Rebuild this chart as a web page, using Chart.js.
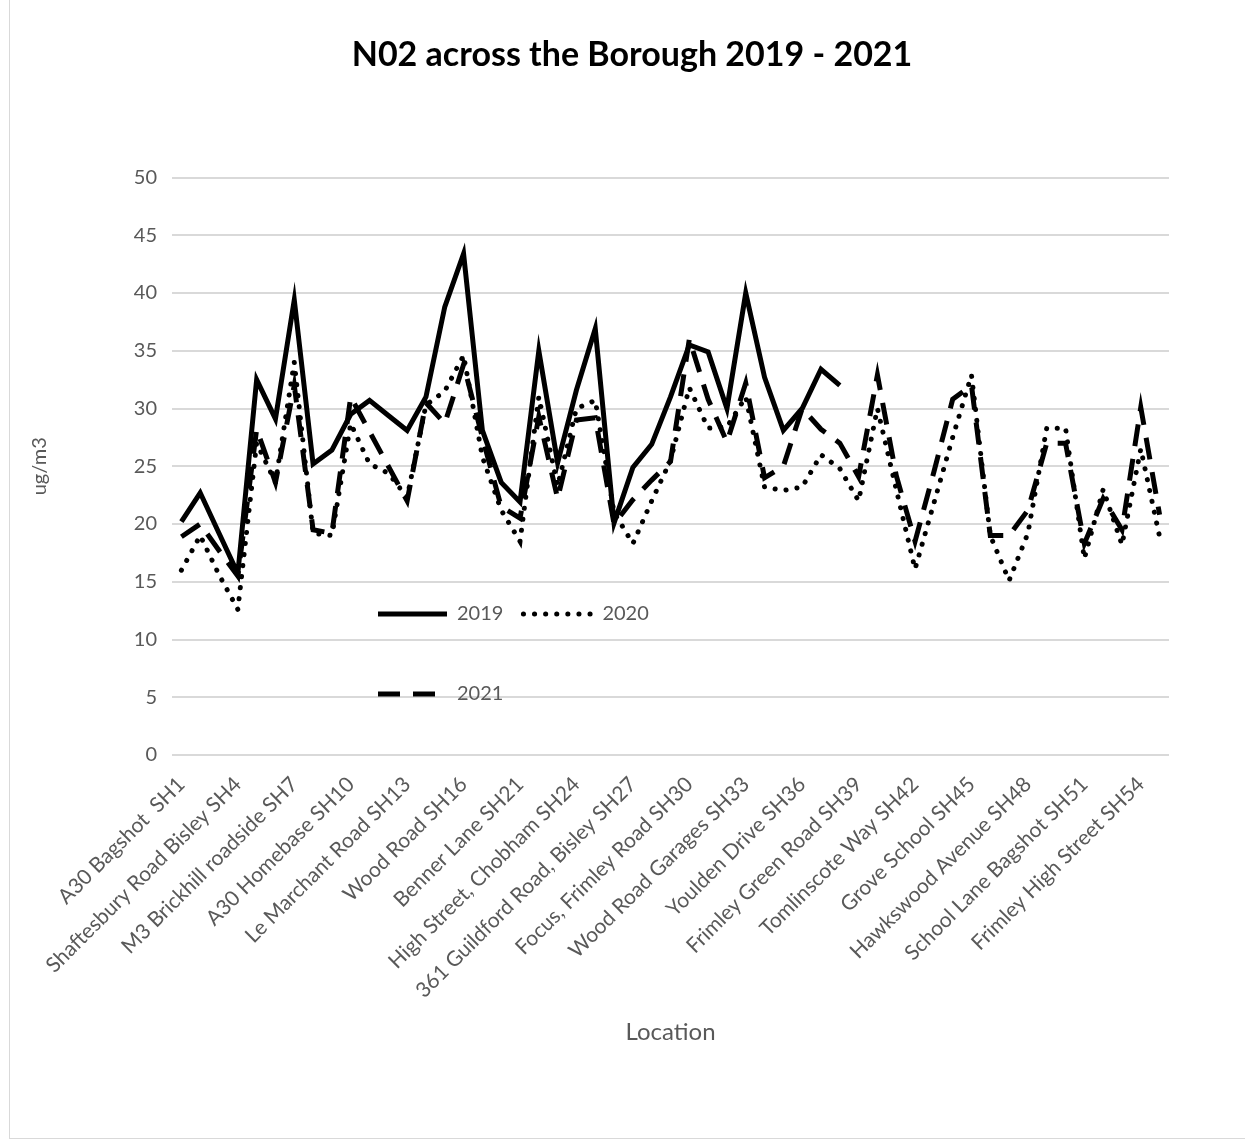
<!DOCTYPE html>
<html>
<head>
<meta charset="utf-8">
<title>N02 across the Borough 2019 - 2021</title>
<script src="https://cdn.jsdelivr.net/npm/chart.js@4.4.1/dist/chart.umd.min.js"></script>
<style>
  html, body { margin: 0; padding: 0; background: #fff; }
  #wrap { width: 1245px; height: 1140px; }
</style>
</head>
<body>
<div id="wrap"><canvas id="no2-chart" width="1245" height="1140"></canvas></div>
<script>
// monitoring sites, only every third name is printed on the axis
const locations = [
    'A30 Bagshot  SH1', 'SH2', 'SH3',
    'Shaftesbury Road Bisley SH4', 'SH5', 'SH6',
    'M3 Brickhill roadside SH7', 'SH8', 'SH9',
    'A30 Homebase SH10', 'SH11', 'SH12',
    'Le Marchant Road SH13', 'SH14', 'SH15',
    'Wood Road SH16', 'SH19', 'SH20',
    'Benner Lane SH21', 'SH22', 'SH23',
    'High Street, Chobham SH24', 'SH25', 'SH26',
    '361 Guildford Road, Bisley SH27', 'SH28', 'SH29',
    'Focus, Frimley Road SH30', 'SH31', 'SH32',
    'Wood Road Garages SH33', 'SH34', 'SH35',
    'Youlden Drive SH36', 'SH37', 'SH38',
    'Frimley Green Road SH39', 'SH40', 'SH41',
    'Tomlinscote Way SH42', 'SH43', 'SH44',
    'Grove School SH45', 'SH46', 'SH47',
    'Hawkswood Avenue SH48', 'SH49', 'SH50',
    'School Lane Bagshot SH51', 'SH52', 'SH53',
    'Frimley High Street SH54', 'SH55'
];

// annual mean NO2, ug/m3
const no2_2019 = [20.2, 22.7, 19.2, 15.7, 32.5, 29.1, 39.4, 25.2, 26.4, 29.5,
    30.7, 29.4, 28.1, 31.0, 38.8, 43.4, 28.1, 23.6, 21.9, 35.0,
    25.3, 31.6, 36.9, 20.1, 24.9, 26.9, 31.0, 35.5, 34.9, 30.0,
    40.0, 32.7, 28.1, 30.0, 33.4, 32.0, null, null, null, null,
    null, null, null, null, null, null, null, null, null, null,
    null, null, null];
const no2_2020 = [16.0, 19.0, 15.6, 12.6, 27.0, 23.6, 34.0, 19.2, 19.0, 28.7,
    25.2, 24.4, 22.3, 30.3, 31.5, 34.6, 25.8, 21.2, 18.5, 31.0,
    23.3, 30.0, 30.7, 21.0, 18.3, 22.0, 25.5, 31.8, 28.3, 28.4,
    31.0, 23.2, 22.9, 23.2, 26.0, 24.8, 22.0, 30.0, 23.0, 16.1,
    21.8, 27.5, 32.9, 19.0, 15.1, 19.2, 28.3, 28.3, 17.0, 23.0,
    18.2, 26.5, 18.9];
const no2_2021 = [18.9, 20.0, 17.7, 15.5, 28.2, 23.6, 32.0, 19.5, 19.2, 31.0,
    28.0, 25.0, 22.0, 30.5, 28.7, 33.8, 27.5, 21.5, 20.5, 29.3,
    22.2, 29.0, 29.2, 20.0, 22.1, 23.8, 25.4, 36.0, 30.8, 27.1,
    32.2, 24.0, 25.0, 30.0, 28.2, 27.0, 24.1, 32.9, 24.2, 18.5,
    24.5, 30.8, 32.0, 19.0, 19.0, 21.2, 27.0, 27.0, 18.3, 22.2,
    19.5, 30.1, 20.8];

const years = ['2019', '2020', '2021'];
const yMin = 0, yMax = 50, yStep = 5;

Chart.defaults.font.family = "Lato, 'Open Sans', sans-serif";
Chart.defaults.color = '#595959';

// white card with the thin excel frame
const chartFrame = {
    id: 'chartFrame',
    beforeDraw(chart) {
        const ctx = chart.ctx;
        ctx.save();
        ctx.fillStyle = '#fff';
        ctx.fillRect(0, 0, chart.width, chart.height);
        ctx.strokeStyle = '#d9d9d9';
        ctx.lineWidth = 1;
        ctx.strokeRect(9.5, -2, chart.width + 10, 1140.5);
        ctx.restore();
    }
};

// title centred on the whole card, legend moved inside the plot
const boxPlacement = {
    id: 'boxPlacement',
    afterLayout(chart) {
        let tb = chart.titleBlock;
        tb.left = 19;
        tb.right = chart.width;
        tb.width = tb.right - tb.left;

        let lg = chart.legend;
        lg.left = 358;
        lg.right = lg.left + 330;
        lg.width = 330;
        lg.top = 584;
        lg.bottom = lg.top + 160;
        lg.height = 160;
    }
};

function legend_labels(chart) {
    let items = Chart.defaults.plugins.legend.labels.generateLabels(chart);
    items.forEach(it => {
        let ds = chart.data.datasets[it.datasetIndex];
        it.lineDash = ds.borderDash || [];
        it.lineCap = ds.borderCapStyle || 'butt';
        it.lineWidth = ds.borderWidth;
        it.strokeStyle = ds.borderColor;
    });
    // empty item only pushes 2021 to a lower row
    items.splice(2, 0, {
        text: '\u2003'.repeat(10),
        fontColor: 'rgba(0,0,0,0)',
        strokeStyle: 'rgba(0,0,0,0)',
        fillStyle: 'rgba(0,0,0,0)',
        lineWidth: 0,
        pointStyle: 'line',
        hidden: false,
        datasetIndex: -1
    });
    return items;
}

const ctx = document.getElementById('no2-chart');
const chart = new Chart(ctx, {
    type: 'line',
    data: {
        labels: locations,
        datasets: [
            {
                label: years[0],
                data: no2_2019,
                borderColor: '#000',
                backgroundColor: '#000',
                borderWidth: 5,
                pointRadius: 0,
                tension: 0,
                spanGaps: false
            },
            {
                label: years[1],
                data: no2_2020,
                borderColor: '#000',
                backgroundColor: '#000',
                borderWidth: 5,
                borderDash: [0.1, 11],
                borderCapStyle: 'round',
                pointRadius: 0,
                tension: 0
            },
            {
                label: years[2],
                data: no2_2021,
                borderColor: '#000',
                backgroundColor: '#000',
                borderWidth: 5,
                borderDash: [22, 13],
                pointRadius: 0,
                tension: 0
            }
        ]
    },
    options: {
        responsive: false,
        animation: false,
        layout: { padding: { left: 0, right: 76, top: 0, bottom: 0 } },
        scales: {
            x: {
                offset: true,
                grid: { display: false },
                border: { display: false },
                ticks: {
                    autoSkip: false,
                    minRotation: 45,
                    maxRotation: 45,
                    padding: 9,
                    font: { size: 21 },
                    callback: function (value, index) {
                        return index % 3 === 0 ? this.getLabelForValue(value) : '';
                    }
                },
                title: {
                    display: true,
                    text: 'Location',
                    font: { size: 24 },
                    padding: { top: 0, bottom: 93 }
                },
                afterFit: (s) => { s.height = 385; }
            },
            y: {
                min: yMin,
                max: yMax,
                grid: { color: '#d9d9d9', lineWidth: 2, drawTicks: false },
                border: { display: false },
                ticks: {
                    stepSize: yStep,
                    padding: 15,
                    font: { size: 20 }
                },
                title: {
                    display: true,
                    text: 'ug/m3',
                    font: { size: 20 },
                    padding: { top: 28, bottom: 0 }
                },
                afterFit: (s) => { s.width = 172; }
            }
        },
        plugins: {
            tooltip: { enabled: false },
            title: {
                display: true,
                text: 'N02 across the Borough 2019 - 2021',
                color: '#000',
                font: { size: 34, weight: 'bold' },
                padding: { top: 34.6, bottom: 52.1 }
            },
            legend: {
                position: 'top',
                align: 'start',
                labels: {
                    usePointStyle: true,
                    pointStyle: 'line',
                    pointStyleWidth: 69,
                    padding: 20,
                    font: { size: 20 },
                    color: '#595959',
                    generateLabels: legend_labels
                }
            }
        }
    },
    plugins: [chartFrame, boxPlacement]
});
</script>
</body>
</html>
